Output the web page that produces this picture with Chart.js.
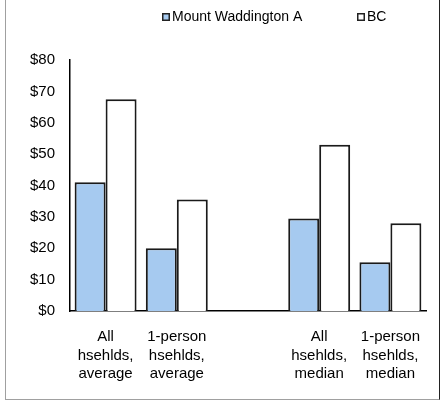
<!DOCTYPE html>
<html>
<head>
<meta charset="utf-8">
<script src="https://cdn.jsdelivr.net/npm/chart.js@4.4.0/dist/chart.umd.min.js"></script>
<style>
	html, body { margin: 0; padding: 0; background: #fff; }
	#wrap { position: relative; width: 441px; height: 403px; }
	#frame {
		position: absolute; left: 5px; top: -2px; width: 435px; height: 402px;
		border: 1px solid #a0a0a0; border-right-color: #222; box-sizing: border-box; pointer-events: none;
	}
</style>
</head>
<body>
<div id="wrap">
	<canvas id="incomeChart" width="441" height="403"></canvas>
	<div id="frame"></div>
</div>
<script>
// data
const categories = [
	["All", "hsehlds,", "average"],
	["1-person", "hsehlds,", "average"],
	"",
	["All", "hsehlds,", "median"],
	["1-person", "hsehlds,", "median"],
];
const mountWaddington = [41, 20, null, 29.5, 15.5];
const bcValues = [67.5, 35.5, null, 53, 28];
const yMin = 0;
const yMax = 80;
const yStep = 10;

const FONT = "'Liberation Sans', Arial, sans-serif";

// legend drawn above the plot, like the original
const topLegend = {
	id: "topLegend",
	afterDraw(chart) {
		const ctx = chart.ctx;
		const xs = [162, 357];
		const y = 17;
		ctx.save();
		ctx.font = "14px " + FONT;
		ctx.textBaseline = "middle";
		chart.data.datasets.forEach((ds, i) => {
			const x = xs[i];
			ctx.fillStyle = ds.backgroundColor;
			ctx.fillRect(x, y - 4, 8, 8);
			ctx.strokeStyle = "#222";
			ctx.lineWidth = 1.5;
			ctx.strokeRect(x + 0.75, y - 3.25, 6.5, 6.5);
			ctx.fillStyle = "#000";
			ctx.fillText(ds.label, x + 10, y + 0.5);
		});
		ctx.restore();
	},
};

const ctx = document.getElementById("incomeChart").getContext("2d");
const chart = new Chart(ctx, {
	type: "bar",
	data: {
		labels: categories,
		datasets: [
			{
				label: "Mount Waddington A",
				data: mountWaddington,
				backgroundColor: "#a6caf0",
				borderColor: "#1a1a1a",
				borderWidth: 2,
			},
			{
				label: "BC",
				data: bcValues,
				backgroundColor: "#ffffff",
				borderColor: "#1a1a1a",
				borderWidth: 2,
			},
		],
	},
	options: {
		responsive: false,
		animation: false,
		devicePixelRatio: 1,
		categoryPercentage: 0.87,
		barPercentage: 1,
		layout: { padding: { top: 60, right: 15, bottom: 0, left: 0 } },
		scales: {
			x: {
				grid: { display: false, drawTicks: false },
				border: { display: true, color: "#000", width: 1.5 },
				ticks: {
					color: "#000",
					font: { family: FONT, size: 15, lineHeight: 1.22 },
					padding: 17,
					maxRotation: 0,
					autoSkip: false,
				},
				afterFit: (scale) => { scale.height = 92; },
			},
			y: {
				min: yMin,
				max: yMax,
				grid: { display: false, drawTicks: false },
				border: { display: true, color: "#000", width: 1.5 },
				ticks: {
					stepSize: yStep,
					color: "#000",
					font: { family: FONT, size: 15 },
					padding: 15,
					callback: (v) => "$" + v,
				},
				afterFit: (scale) => { scale.width = 70; },
			},
		},
		plugins: {
			legend: { display: false },
			tooltip: { enabled: false },
		},
	},
	plugins: [topLegend],
});
</script>
</body>
</html>
